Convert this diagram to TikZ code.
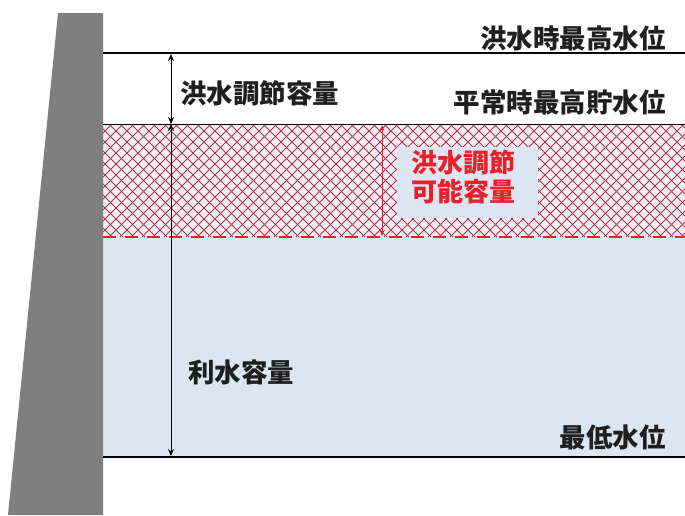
\documentclass[tikz,border=0pt]{standalone}
\usepackage{fontspec}
\newfontfamily\jp{Noto Sans CJK JP}
\usetikzlibrary{arrows.meta}
\definecolor{dam}{HTML}{7F7F7F}
\definecolor{water}{HTML}{DCE6F2}
\definecolor{hatchbg}{HTML}{EEF0F5}
\definecolor{hatchred}{HTML}{B8304C}
\definecolor{lblred}{HTML}{E8202A}
\tikzset{
  lbl/.style={inner sep=0pt, font=\jp\bfseries\fontsize{26.5}{31}\selectfont, text=black!88},
  redlbl/.style={inner sep=0pt, align=left, font=\jp\bfseries\fontsize{26}{29}\selectfont, text=lblred},
  dim/.style={line width=1pt, {Stealth[length=7pt,width=6pt]}-{Stealth[length=7pt,width=6pt]}},
  reddim/.style={line width=1pt, draw=lblred, {Stealth[length=6pt,width=5pt]}-{Stealth[length=6pt,width=5pt]}},
  level/.style={line width=2pt},
}
\begin{document}
\begin{tikzpicture}[x=1pt,y=-1pt]
\useasboundingbox (0,0) rectangle (685,515);
% water
\fill[water] (103,237) rectangle (685,457);
% hatched band
\fill[hatchbg] (103,124) rectangle (685,237);
\begin{scope}
  \clip (103,124) rectangle (685,237);
  \foreach \k in {-122,-111,...,700} {
    \draw[hatchred, line width=0.95pt] (\k,124) -- (\k+113,237);
    \draw[hatchred, line width=0.95pt] (\k,237) -- (\k+113,124);
  }
\end{scope}
% text box without hatching
\fill[water] (397,147) rectangle (538,218);
% dashed red line
\draw[lblred, line width=2.5pt, dash pattern=on 13pt off 9pt] (103,237) -- (685,237);
% dam
\fill[dam] (58,13) -- (103,13) -- (103,515) -- (8,515) -- cycle;
% levels
\draw[level] (103,53) -- (685,53);
\draw[line width=1pt] (103,124) -- (685,124);
\draw[level] (103,457) -- (685,457);
% coordinates for dimension arrows
\coordinate (a1) at (171,54);
\coordinate (a2) at (171,124);
\coordinate (a3) at (171,456);
\coordinate (r1) at (382,125);
\coordinate (r2) at (382,236);
\draw[dim] (a1) -- (a2);
\draw[dim] (a2) -- (a3);
\draw[reddim] (r1) -- (r2);
% labels
\node[lbl, anchor=east] (hwl) at (666,38) {洪水時最高水位};
\node[lbl, anchor=east] (nwl) at (666,102) {平常時最高貯水位};
\node[lbl, anchor=west] (fcv) at (180,93) {洪水調節容量};
\node[lbl, anchor=west] (wuv) at (188,372) {利水容量};
\node[lbl, anchor=east] (lwl) at (666,437) {最低水位};
\node[redlbl, anchor=north west] (pcv) at (411,150) {洪水調節\\可能容量};
\end{tikzpicture}
\end{document}
